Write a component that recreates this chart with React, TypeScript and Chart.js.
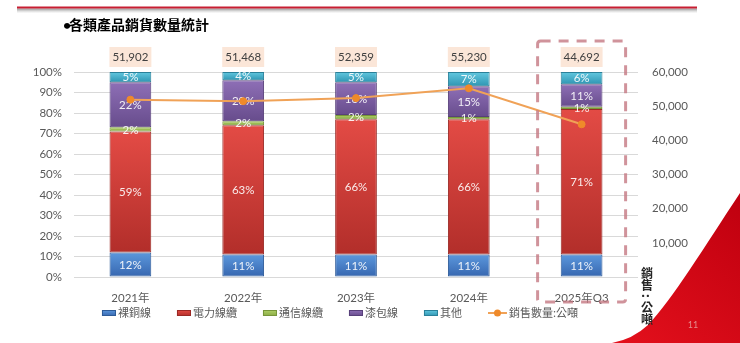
import React, { useEffect, useRef } from 'react';
import { Chart, registerables } from 'chart.js';

Chart.register(...registerables);

// ---------- data ----------
const categories = ['2021年', '2022年', '2023年', '2024年', '2025年Q3'];
const bareCopper = [12, 11, 11, 11, 11];
const powerCable = [59, 63, 66, 66, 71];
const commCable = [2, 2, 2, 1, 1];
const enamelWire = [22, 20, 16, 15, 11];
const others = [5, 4, 5, 7, 6];
const salesTons = [51902, 51468, 52359, 55230, 44692];
const highlightIndex = 4;
const titleBullet = '•';
const titleText = '各類產品銷貨數量統計';
const rightAxisTitle = ['銷', '售', ':', '公', '噸'];
const pageNumber = '11';

// ---------- styles ----------
const barStyles = [
  { label: '裸銅線', data: bareCopper, top: '#5c98dd', bottom: '#3767b0', border: '#2e5b98', base: '#4a80c8' },
  { label: '電力線纜', data: powerCable, top: '#e34b45', bottom: '#b22e2a', border: '#9a2925', base: '#d23c37' },
  { label: '通信線纜', data: commCable, top: '#b0d067', bottom: '#8aab44', border: '#77953a', base: '#9bbb59' },
  { label: '漆包線', data: enamelWire, top: '#8e6fb6', bottom: '#674c8c', border: '#58407a', base: '#7b5fa3' },
  { label: '其他', data: others, top: '#62c8e0', bottom: '#2f95b2', border: '#2a8099', base: '#47aecb' },
];
const lineColor = '#f0a257';
const pointColor = '#ef8a2a';
const FONT = "Lato, 'Noto Sans CJK TC', sans-serif";
const CJK = "'Noto Sans CJK TC', sans-serif";

const decorPlugin = {
  id: 'decor',
  beforeDraw(chart: any) {
    const ctx = chart.ctx;
    const W = chart.width;
    const H = chart.height;
    ctx.save();
    ctx.fillStyle = '#ffffff';
    ctx.fillRect(0, 0, W, H);
    // top rule with shadow
    const sg = ctx.createLinearGradient(0, 8.5, 0, 13.5);
    sg.addColorStop(0, 'rgba(110,110,110,0.75)');
    sg.addColorStop(1, 'rgba(200,200,200,0)');
    ctx.fillStyle = sg;
    ctx.fillRect(17, 8.5, 680, 5);
    ctx.fillStyle = '#c81e32';
    ctx.fillRect(17, 6.5, 680, 2);
    // red swoosh bottom right
    ctx.beginPath();
    ctx.moveTo(W, 193);
    ctx.bezierCurveTo(705, 246, 672, 300, 648, 325);
    ctx.quadraticCurveTo(633, 339, 612, H);
    ctx.lineTo(W, H);
    ctx.closePath();
    const rg = ctx.createLinearGradient(620, H, W, 200);
    rg.addColorStop(0, '#e3101c');
    rg.addColorStop(1, '#c0000f');
    ctx.fillStyle = rg;
    ctx.fill();
    // page number
    ctx.fillStyle = '#e58c8c';
    ctx.font = `9px ${FONT}`;
    ctx.textAlign = 'center';
    ctx.textBaseline = 'middle';
    ctx.fillText(pageNumber, 693, 325);
    // title
    ctx.fillStyle = '#000000';
    ctx.textAlign = 'left';
    ctx.font = `bold 14px Lato, sans-serif`;
    ctx.fillText(titleBullet, 63, 25);
    ctx.font = `bold 14px ${CJK}`;
    ctx.fillText(titleText, 69, 25);
    ctx.restore();
  },
  beforeDatasetsDraw(chart: any) {
    const ctx = chart.ctx;
    chart.data.datasets.forEach((ds: any, i: number) => {
      const meta = chart.getDatasetMeta(i);
      if (meta.type !== 'bar') return;
      const st = barStyles[i];
      meta.data.forEach((el: any) => {
        const t = Math.min(el.y, el.base);
        const b = Math.max(el.y, el.base);
        if (!isFinite(t) || !isFinite(b) || b - t < 0.5) return;
        const g = ctx.createLinearGradient(0, t, 0, b);
        g.addColorStop(0, st.top);
        g.addColorStop(1, st.bottom);
        try {
          el.options.backgroundColor = g;
        } catch (e) {
          /* ignore */
        }
      });
    });
  },
  afterDatasetDraw(chart: any, args: any) {
    if (args.index !== 0) return;
    const ctx = chart.ctx;
    ctx.save();
    ctx.font = `11.5px ${FONT}`;
    ctx.textAlign = 'center';
    ctx.textBaseline = 'middle';
    ctx.fillStyle = 'rgba(255,255,255,0.9)';
    chart.data.datasets.forEach((ds: any, i: number) => {
      const meta = chart.getDatasetMeta(i);
      if (meta.type !== 'bar') return;
      meta.data.forEach((el: any, j: number) => {
        const v = ds.data[j];
        ctx.fillText(`${v}%`, el.x, (el.y + el.base) / 2 + 0.5);
      });
    });
    ctx.restore();
  },
  afterDatasetsDraw(chart: any) {
    const ctx = chart.ctx;
    const xs = chart.scales.x;
    ctx.save();
    // totals above bars
    ctx.font = `11.5px ${FONT}`;
    ctx.textAlign = 'center';
    ctx.textBaseline = 'middle';
    salesTons.forEach((v, j) => {
      const x = xs.getPixelForValue(j);
      const txt = v.toLocaleString('en-US');
      const w = ctx.measureText(txt).width + 6;
      ctx.fillStyle = '#fbe6d8';
      ctx.fillRect(x - w / 2, 47, w, 20);
      ctx.fillStyle = '#404040';
      ctx.fillText(txt, x, 57.5);
    });
    // dashed highlight box
    const hx = xs.getPixelForValue(highlightIndex);
    ctx.strokeStyle = 'rgba(196,120,130,0.8)';
    ctx.lineWidth = 3;
    ctx.setLineDash([10, 8]);
    ctx.beginPath();
    const l = hx - 44, r = hx + 44, t = 41, b = 302, rad = 3;
    ctx.moveTo(l + rad, t);
    ctx.lineTo(r - rad, t);
    ctx.quadraticCurveTo(r, t, r, t + rad);
    ctx.lineTo(r, b - rad);
    ctx.quadraticCurveTo(r, b, r - rad, b);
    ctx.lineTo(l + rad, b);
    ctx.quadraticCurveTo(l, b, l, b - rad);
    ctx.lineTo(l, t + rad);
    ctx.quadraticCurveTo(l, t, l + rad, t);
    ctx.stroke();
    ctx.restore();
  },
  afterDraw(chart: any) {
    const ctx = chart.ctx;
    const area = chart.chartArea;
    ctx.save();
    // legend
    ctx.font = `11px ${CJK}`;
    ctx.textBaseline = 'middle';
    ctx.textAlign = 'left';
    const items = chart.data.datasets.map((ds: any, i: number) => {
      const isLine = ds.type === 'line';
      const mw = isLine ? 19 : 14;
      const tw = ctx.measureText(ds.label).width;
      return { ds, i, isLine, mw, tw, w: mw + 2 + tw };
    });
    const gap = 26;
    const total = items.reduce((s: number, it: any) => s + it.w, 0) + gap * (items.length - 1);
    let x = 340 - total / 2;
    const y = 313;
    items.forEach((it: any) => {
      if (it.isLine) {
        ctx.strokeStyle = lineColor;
        ctx.lineWidth = 2;
        ctx.beginPath();
        ctx.moveTo(x, y);
        ctx.lineTo(x + it.mw, y);
        ctx.stroke();
        ctx.fillStyle = pointColor;
        ctx.beginPath();
        ctx.arc(x + it.mw / 2, y, 3.5, 0, Math.PI * 2);
        ctx.fill();
      } else {
        const st = barStyles[it.i];
        const g = ctx.createLinearGradient(0, y - 3, 0, y + 3);
        g.addColorStop(0, st.top);
        g.addColorStop(1, st.bottom);
        ctx.fillStyle = g;
        ctx.fillRect(x, y - 3, it.mw, 6);
        ctx.strokeStyle = st.border;
        ctx.lineWidth = 1;
        ctx.strokeRect(x + 0.5, y - 2.5, it.mw - 1, 5);
      }
      ctx.fillStyle = '#595959';
      ctx.fillText(it.ds.label, x + it.mw + 2, y);
      x += it.w + gap;
    });
    // right axis title (stacked vertical)
    ctx.fillStyle = '#262626';
    ctx.font = `bold 12px ${CJK}`;
    ctx.textAlign = 'center';
    let ty = area.bottom - 4;
    const tx = area.right + 9;
    rightAxisTitle.forEach((ch) => {
      if (ch === ':') {
        ctx.save();
        ctx.translate(tx, ty - 2);
        ctx.rotate(Math.PI / 2);
        ctx.fillText(ch, 0, 0);
        ctx.restore();
        ty += 9;
      } else {
        ctx.fillText(ch, tx, ty);
        ty += 12.5;
      }
    });
    ctx.restore();
  },
};

export default function App() {
  const ref = useRef<HTMLCanvasElement | null>(null);
  useEffect(() => {
    if (!ref.current) return;
    const datasets: any[] = barStyles.map((s) => ({
      type: 'bar',
      label: s.label,
      data: s.data,
      backgroundColor: () => s.base,
      borderColor: s.border,
      borderWidth: 1,
      borderSkipped: false,
      barPercentage: 0.37,
      categoryPercentage: 1,
      stack: 'share',
      yAxisID: 'y',
      order: 1,
    }));
    datasets.push({
      type: 'line',
      label: '銷售數量:公噸',
      data: salesTons,
      borderColor: lineColor,
      borderWidth: 2,
      pointRadius: 3.5,
      pointBackgroundColor: pointColor,
      pointBorderColor: pointColor,
      pointBorderWidth: 1,
      tension: 0,
      fill: false,
      yAxisID: 'y1',
      order: 0,
    });
    const chart = new Chart(ref.current, {
      type: 'bar',
      data: { labels: categories, datasets },
      options: {
        animation: false,
        responsive: false,
        maintainAspectRatio: false,
        layout: { padding: { top: 72, left: 0, right: 0, bottom: 36 } },
        plugins: { legend: { display: false }, tooltip: { enabled: false } },
        scales: {
          x: {
            stacked: true,
            grid: { display: false },
            border: { display: false },
            ticks: { color: '#595959', font: { family: FONT, size: 11.5 }, padding: 6, maxRotation: 0 },
            afterFit: (s: any) => { s.height = 30; },
          },
          y: {
            stacked: true,
            min: 0,
            max: 100,
            position: 'left',
            grid: { color: '#d9d9d9', lineWidth: 1, drawTicks: false },
            border: { display: false },
            ticks: {
              stepSize: 10,
              color: '#595959',
              font: { family: FONT, size: 11.5 },
              padding: 12,
              callback: (v: any) => `${v}%`,
            },
            afterFit: (s: any) => { s.width = 74; },
          },
          y1: {
            min: 0,
            max: 60000,
            position: 'right',
            grid: { display: false, drawTicks: false },
            border: { display: false },
            ticks: {
              stepSize: 10000,
              color: '#595959',
              font: { family: FONT, size: 11.5 },
              padding: 14,
              callback: (v: any) => (v === 0 ? '' : Number(v).toLocaleString('en-US')),
            },
            afterFit: (s: any) => { s.width = 102; },
          },
        },
      },
      plugins: [decorPlugin],
    } as any);
    return () => chart.destroy();
  }, []);
  return (
    <div style={{ position: 'absolute', left: 0, top: 0, width: 740, height: 343 }}>
      <canvas ref={ref} width={740} height={343} style={{ display: 'block', width: 740, height: 343 }} />
    </div>
  );
}
